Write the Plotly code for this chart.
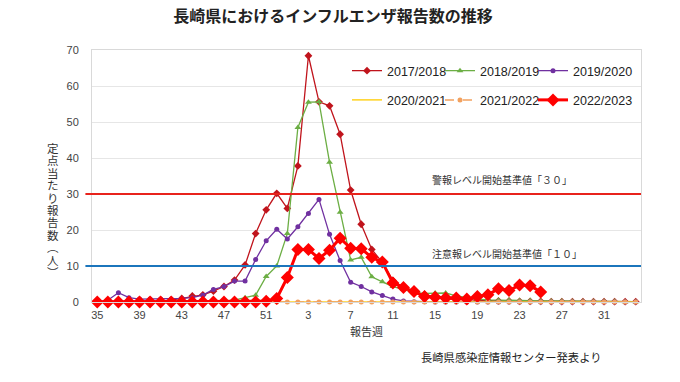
import plotly.graph_objects as go

weeks = ["35","36","37","38","39","40","41","42","43","44","45","46","47","48","49","50","51","52",
         "1","2","3","4","5","6","7","8","9","10","11","12","13","14","15","16","17","18","19","20",
         "21","22","23","24","25","26","27","28","29","30","31","32","33","34"]
tick_labels = ["35","39","43","47","51","3","7","11","15","19","23","27","31"]

s2017 = [0.1,0.1,0.2,0.2,0.2,0.3,0.3,0.5,1.0,1.7,2.0,3.0,4.3,6.1,10.3,19.0,25.6,30.2,
         26.0,37.8,68.4,55.6,54.5,46.6,31.1,21.6,14.6,11.0,6.0,4.0,3.0,2.0,1.5,1.0,0.8,0.6,0.5,0.4,
         0.3,0.3,0.2,0.2,0.2,0.1,0.1,0.1,0.1,0.1,0.1,0.1,0.1,0.1]
s2018 = [0.0,0.0,0.0,0.0,0.0,0.0,0.0,0.0,0.1,0.1,0.1,0.2,0.3,0.5,1.2,1.9,7.1,10.0,
         19.0,48.5,55.5,55.6,38.8,24.9,11.7,12.4,7.0,5.6,4.3,3.5,2.6,2.4,2.5,2.5,1.7,1.2,0.8,0.6,
         0.5,0.5,0.4,0.4,0.3,0.3,0.3,0.2,0.2,0.2,0.2,0.2,0.1,0.1]
s2019 = [0.0,0.5,2.6,1.2,0.8,0.8,0.8,0.8,1.0,1.2,1.9,3.5,4.3,5.8,5.8,11.8,17.0,20.2,
         17.5,20.9,24.6,28.5,18.8,11.5,5.5,4.3,2.8,1.8,0.8,0.3,0.1,0.1,0.0,0.0,0.0,0.0,0.0,0.0,
         0.0,0.0,0.0,0.0,0.0,0.0,0.0,0.0,0.0,0.0,0.0,0.0,0.0,0.0]
s2020 = [0.0,0.0,0.0,0.0,0.0,0.0,0.0,0.0,0.0,0.0,0.0,0.0,0.0,0.0,0.0,0.0,0.0,0.0,
         0.0,0.0,0.0,0.0,0.0,0.0,0.0,0.0,0.0,0.0,0.0,0.0,0.0,0.0,0.0,0.0,0.0,0.0,0.0,0.0,
         0.0,0.0,0.0,0.0,0.0,0.0,0.0,0.0,0.0,0.0,0.0,0.0,0.0,0.0]
s2021 = [0.0,0.0,0.0,0.0,0.0,0.0,0.0,0.0,0.0,0.0,0.0,0.0,0.0,0.0,0.0,0.0,0.0,0.0,
         0.0,0.0,0.0,0.0,0.0,0.0,0.0,0.0,0.0,0.0,0.0,0.0,0.0,0.0,0.0,0.0,0.0,0.0,0.0,0.0,
         0.0,0.0,0.0,0.0,0.0,0.0,0.0,0.0,0.0,0.0,0.0,0.0,0.0,0.0]
s2022 = [0.0,0.0,0.0,0.0,0.0,0.0,0.0,0.0,0.0,0.0,0.0,0.0,0.0,0.0,0.0,0.0,0.2,1.0,
         6.8,14.6,14.6,12.1,14.4,17.7,14.9,14.8,12.4,11.1,5.3,4.0,2.9,1.5,1.3,1.1,1.1,0.8,1.5,2.0,
         3.7,3.2,4.7,4.5,2.8]

alarm_level = 30
warning_level = 10

FONT = "Liberation Sans, Arial, Noto Sans CJK JP"
JP = "Noto Sans CJK JP"

# reference-pixel helpers (plot area: left 92, top 50, bottom 302, width 549)
def px_x(px):
    return (px - 92) / 549

def px_y(py):
    return (302 - py) / 252

fig = go.Figure()

def add(name, y, color, symbol, msize, width, dash, legend, show_marker=True):
    fig.add_trace(go.Scatter(
        x=weeks[:len(y)], y=y, name=name, mode="lines+markers" if show_marker else "lines",
        line=dict(color=color, width=width, dash=dash),
        marker=dict(color=color, symbol=symbol, size=msize),
        cliponaxis=False, legend=legend, legendgroup=name))

add("2017/2018", s2017, "#c0141c", "diamond", 6, 1.3, "solid", "legend")
add("2018/2019", s2018, "#6cae44", "triangle-up", 6, 1.3, "solid", "legend2")
add("2019/2020", s2019, "#7030a0", "circle", 5, 1.3, "solid", "legend3")
add("2020/2021", s2020, "#ffd21f", "circle", 3, 1.5, "solid", "legend", show_marker=False)
add("2021/2022", s2021, "#f2a15f", "circle", 5, 1.5, "dash", "legend2")
add("2022/2023", s2022, "#ff0000", "diamond", 10, 3, "solid", "legend3")

# threshold lines (slightly extending left of the axis, as in the original)
for level, col in [(alarm_level, "#e8231c"), (warning_level, "#1b75bc")]:
    fig.add_shape(type="line", xref="paper", yref="y", x0=-0.012, x1=1, y0=level, y1=level,
                  line=dict(color=col, width=2.2), layer="above")

fig.add_annotation(text="警報レベル開始基準値「３０」", xref="paper", yref="y",
                   x=px_x(430), y=alarm_level, yshift=15, xanchor="left", showarrow=False,
                   font=dict(family=JP, size=10, color="#333333"))
fig.add_annotation(text="注意報レベル開始基準値「１０」", xref="paper", yref="y",
                   x=px_x(430), y=warning_level, yshift=13, xanchor="left", showarrow=False,
                   font=dict(family=JP, size=10, color="#333333"))

# vertical y-axis title, one character per line
ychars = ["定","点","当","た","り","報","告","数","︵","人","︶"]
for i, ch in enumerate(ychars):
    fig.add_annotation(text=ch, xref="paper", yref="paper", x=px_x(53), y=px_y(149 + i * 12.4),
                       showarrow=False, xanchor="center", yanchor="middle", borderpad=0,
                       font=dict(family=FONT, size=11.5, color="#333333"))

fig.add_annotation(text="長崎県感染症情報センター発表より", xref="paper", yref="paper",
                   x=px_x(419), y=px_y(357), xanchor="left", yanchor="middle",
                   showarrow=False, font=dict(family=JP, size=11.3, color="#222222"))

leg_common = dict(orientation="v", xanchor="left", yanchor="middle", y=px_y(85.5),
                  bgcolor="rgba(0,0,0,0)", font=dict(family=FONT, size=12.5, color="#222222"),
                  itemwidth=30, tracegroupgap=10, traceorder="grouped")

fig.update_layout(
    width=680, height=382,
    margin=dict(l=84, r=47, t=42, b=88),
    paper_bgcolor="white", plot_bgcolor="white",
    title=dict(text="<b>長崎県におけるインフルエンザ報告数の推移</b>", x=325/680, xanchor="center",
               y=1 - 3/382, yanchor="top", pad=dict(t=0, b=0),
               font=dict(family=FONT, size=16, color="#222222")),
    font=dict(family=FONT, color="#444444"),
    legend=dict(x=px_x(347), **leg_common),
    legend2=dict(x=px_x(440), **leg_common),
    legend3=dict(x=px_x(533), **leg_common),
    xaxis=dict(type="category", categoryorder="array", categoryarray=weeks,
               tickmode="array", tickvals=tick_labels, ticktext=tick_labels,
               range=[-0.5, 51.5], showgrid=False, showline=True, linecolor="#d9d9d9",
               mirror=True, ticks="", tickfont=dict(size=11, color="#444444"),
               ticklabelstandoff=3, automargin=False,
               title=dict(text="報告週", font=dict(family=JP, size=11, color="#333333"), standoff=8)),
    yaxis=dict(range=[0, 70], dtick=10, showgrid=True, gridcolor="#e6e6e6", gridwidth=1,
               showline=True, linecolor="#d9d9d9", mirror=True, zeroline=False, ticks="",
               tickfont=dict(size=11, color="#444444"), ticklabelstandoff=10, automargin=False),
    showlegend=True,
)

fig.write_html("out.html")
